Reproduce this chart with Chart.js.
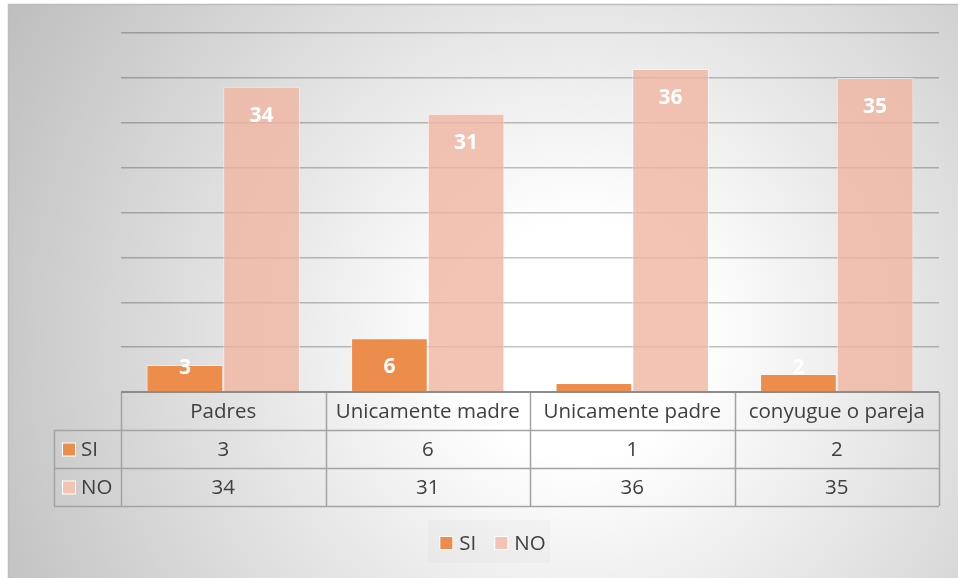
<!DOCTYPE html>
<html>
<head>
<meta charset="utf-8">
<script src="https://cdn.jsdelivr.net/npm/chart.js@4.4.1/dist/chart.umd.min.js"></script>
<style>
  html, body { margin: 0; padding: 0; background: #ffffff; }
  #wrap { width: 958px; height: 578px; position: relative; }
</style>
</head>
<body>
<div id="wrap"><canvas id="c" width="958" height="578"></canvas></div>
<script>
// Categories and series
const categories = ['Padres', 'Unicamente madre', 'Unicamente padre', 'conyugue o pareja'];
const seriesNames = ['SI', 'NO'];
const siValues = [3, 6, 1, 2];
const noValues = [34, 31, 36, 35];
const yMax = 40;
const yStep = 5;

const FONT = '"Open Sans", "Noto Sans", sans-serif';
const TEXT = '#404040';
const SI_COLOR = 'rgb(237,141,76)';
const NO_COLOR = 'rgba(240,180,160,0.8)';

// Frame with a soft radial fill behind everything
const framePlugin = {
  id: 'frame',
  beforeDraw(chart) {
    const ctx = chart.ctx;
    ctx.save();
    const g = ctx.createRadialGradient(580, 340, 40, 580, 340, 680);
    g.addColorStop(0, '#ffffff');
    g.addColorStop(0.12, '#ffffff');
    g.addColorStop(1, '#bcbcbc');
    ctx.fillStyle = g;
    ctx.fillRect(8, 4, 950, 574);
    ctx.strokeStyle = '#bdbdbd';
    ctx.lineWidth = 1.5;
    ctx.beginPath();
    ctx.moveTo(8.5, 578);
    ctx.lineTo(8.5, 4.5);
    ctx.lineTo(957.5, 4.5);
    ctx.stroke();
    ctx.restore();
  }
};

// Value labels inside the top of each bar
const valueLabels = {
  id: 'valueLabels',
  afterDatasetsDraw(chart) {
    const ctx = chart.ctx;
    ctx.save();
    ctx.font = 'bold 21px ' + FONT;
    ctx.fillStyle = '#ffffff';
    ctx.textAlign = 'center';
    ctx.textBaseline = 'middle';
    chart.data.datasets.forEach((ds, di) => {
      const meta = chart.getDatasetMeta(di);
      meta.data.forEach((bar, i) => {
        const cy = Math.min(bar.y + 29, bar.base - 23.5);
        ctx.fillText(String(ds.data[i]), bar.x, cy);
      });
    });
    ctx.restore();
  }
};

// Data table under the plot, laid out on the category scale
const dataTable = {
  id: 'dataTable',
  afterDraw(chart) {
    const ctx = chart.ctx;
    const xs = chart.scales.x;
    const area = chart.chartArea;
    const top = xs.top;
    const rowH = (xs.bottom - xs.top) / 3;
    const colW = (area.right - area.left) / categories.length;
    const keyLeft = 54;
    const left = area.left, right = area.right;
    const bottom = top + rowH * 3;
    ctx.save();
    // grid of the table
    ctx.strokeStyle = '#a3a3a3';
    ctx.lineWidth = 1.5;
    ctx.beginPath();
    for (let r = 1; r <= 3; r++) {
      const y = Math.round(top + rowH * r) + 0.5;
      ctx.moveTo(keyLeft, y);
      ctx.lineTo(right, y);
    }
    ctx.moveTo(keyLeft + 0.5, top + rowH);
    ctx.lineTo(keyLeft + 0.5, bottom);
    for (let c = 0; c <= categories.length; c++) {
      const x = Math.round(xs.getPixelForValue(c) - colW / 2) + 0.5;
      ctx.moveTo(x, top);
      ctx.lineTo(x, bottom);
    }
    ctx.stroke();
    // axis line
    ctx.strokeStyle = '#8c8c8c';
    ctx.lineWidth = 2;
    ctx.beginPath();
    ctx.moveTo(left, top);
    ctx.lineTo(right, top);
    ctx.stroke();

    ctx.font = '20.5px ' + FONT;
    ctx.fillStyle = TEXT;
    ctx.textAlign = 'center';
    ctx.textBaseline = 'middle';
    categories.forEach((cat, i) => {
      const x = xs.getPixelForValue(i);
      ctx.fillText(cat, x, top + rowH * 0.5 + 1);
    });
    chart.data.datasets.forEach((ds, di) => {
      const cy = top + rowH * (di + 1.5) + 1;
      ds.data.forEach((v, i) => {
        ctx.fillText(String(v), xs.getPixelForValue(i), cy);
      });
      // key square and series name
      ctx.fillStyle = '#ffffff';
      ctx.fillRect(62, cy - 7.5, 14, 14);
      ctx.fillStyle = ds.backgroundColor;
      ctx.fillRect(63, cy - 6.5, 12, 12);
      ctx.fillStyle = TEXT;
      ctx.textAlign = 'left';
      ctx.fillText(ds.label, 81, cy);
      ctx.textAlign = 'center';
    });
    ctx.restore();
  }
};

// Legend centred under the table
const bottomLegend = {
  id: 'bottomLegend',
  afterDraw(chart) {
    const ctx = chart.ctx;
    ctx.save();
    ctx.font = '20.5px ' + FONT;
    ctx.textBaseline = 'middle';
    const box = 12, gapText = 7, gapItem = 19;
    const items = chart.data.datasets.map(ds => ({ label: ds.label, color: ds.backgroundColor, w: ctx.measureText(ds.label).width }));
    const total = items.reduce((s, it) => s + box + gapText + it.w, 0) + gapItem * (items.length - 1);
    const cx = 493, cy = 543;
    ctx.fillStyle = 'rgba(0,0,0,0.018)';
    ctx.fillRect(428, 520, 122, 43);
    let x = cx - total / 2;
    items.forEach(it => {
      ctx.fillStyle = '#ffffff';
      ctx.fillRect(x - 1, cy - 7, box + 2, box + 2);
      ctx.fillStyle = it.color;
      ctx.fillRect(x, cy - 6, box, box);
      ctx.fillStyle = TEXT;
      ctx.fillText(it.label, x + box + gapText, cy + 1);
      x += box + gapText + it.w + gapItem;
    });
    ctx.restore();
  }
};

new Chart(document.getElementById('c'), {
  type: 'bar',
  data: {
    labels: categories,
    datasets: [
      { label: seriesNames[0], data: siValues, backgroundColor: SI_COLOR, borderColor: 'rgba(255,255,255,0.45)', borderWidth: 1 },
      { label: seriesNames[1], data: noValues, backgroundColor: NO_COLOR, borderColor: 'rgba(255,255,255,0.55)', borderWidth: 1 }
    ]
  },
  options: {
    responsive: false,
    animation: false,
    devicePixelRatio: 1,
    layout: { padding: { left: 121, right: 19, top: 33, bottom: 72 } },
    datasets: { bar: { categoryPercentage: 0.75, barPercentage: 1.0 } },
    plugins: { legend: { display: false }, tooltip: { enabled: false } },
    scales: {
      x: {
        grid: { display: false },
        border: { display: false },
        ticks: { display: false },
        afterFit(scale) { scale.height = 114; }
      },
      y: {
        min: 0,
        max: yMax,
        ticks: { display: false, stepSize: yStep },
        border: { display: false },
        grid: { color: 'rgba(0,0,0,0.24)', lineWidth: 1.5, drawTicks: false },
        afterFit(scale) { scale.width = 0; }
      }
    }
  },
  plugins: [framePlugin, valueLabels, dataTable, bottomLegend]
});
</script>
</body>
</html>
